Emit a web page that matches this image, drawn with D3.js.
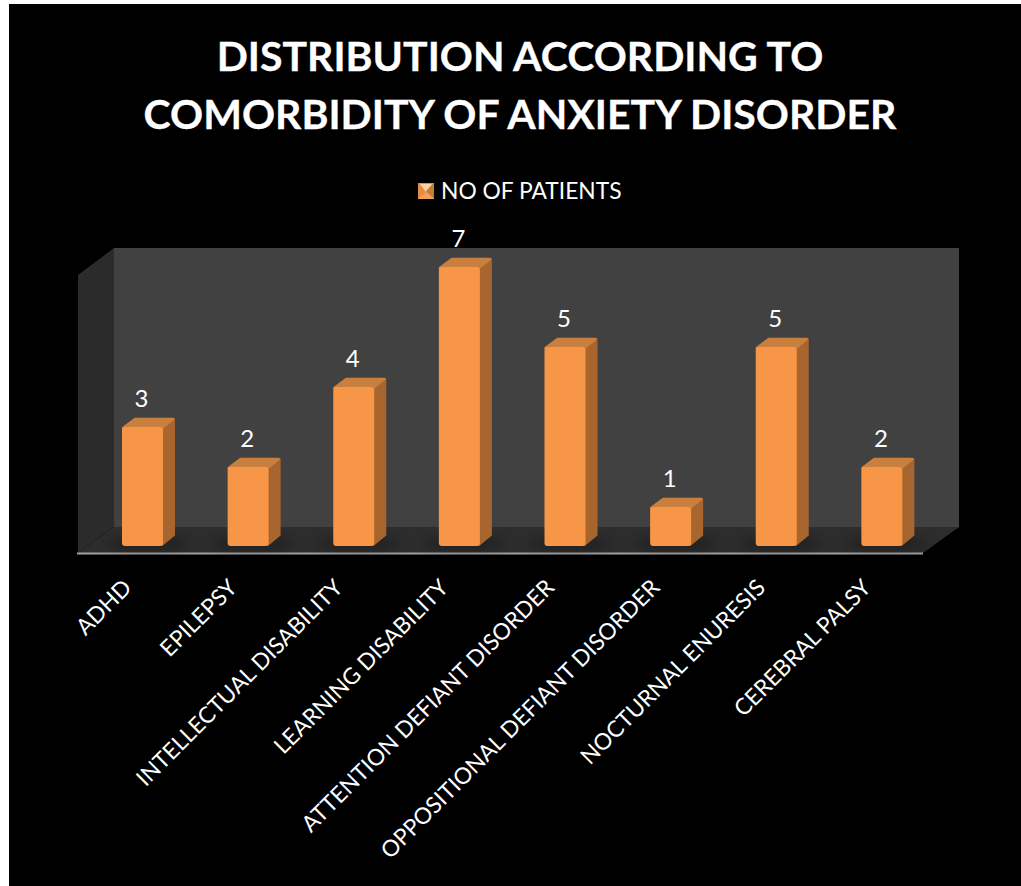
<!DOCTYPE html>
<html>
<head>
<meta charset="utf-8">
<script src="https://cdn.jsdelivr.net/npm/d3@7/dist/d3.min.js"></script>
<style>
html,body{margin:0;padding:0;background:#fff;overflow:hidden}
svg{display:block}
text{font-family:Lato,"Open Sans",sans-serif;fill:#fff}
</style>
</head>
<body>
<svg id="chart" width="1021" height="886"></svg>
<script>
const titleLines = ["DISTRIBUTION ACCORDING TO", "COMORBIDITY OF ANXIETY DISORDER"];
const seriesName = "NO OF PATIENTS";
const categories = ["ADHD", "EPILEPSY", "INTELLECTUAL DISABILITY", "LEARNING DISABILITY",
  "ATTENTION DEFIANT DISORDER", "OPPOSITIONAL DEFIANT DISORDER", "NOCTURNAL ENURESIS", "CEREBRAL PALSY"];
const patients = [3, 2, 4, 7, 5, 1, 5, 2];

const svg = d3.select("#chart");
const defs = svg.append("defs");

// Soft contact shadow under each column
defs.append("filter").attr("id", "floorShadow")
  .attr("x", "-40%").attr("y", "-150%").attr("width", "180%").attr("height", "400%")
  .append("feGaussianBlur").attr("stdDeviation", 6);

// Slight softening of the bevelled column edges
defs.append("filter").attr("id", "soft")
  .attr("x", "-10%").attr("y", "-10%").attr("width", "120%").attr("height", "120%")
  .append("feGaussianBlur").attr("stdDeviation", 0.5);

svg.append("rect").attr("x", 9).attr("y", 4).attr("width", 1012).attr("height", 882).attr("fill", "#000");

// 3D box geometry
const front = {left: 78, right: 923, floor: 553};
const depth = {x: 36, y: 26};
const x = d3.scaleBand().domain(categories).range([front.left, front.right]);
const y = d3.scaleLinear().domain([0, 7]).range([547, 267]);
const wallTop = 248;
const backFloor = front.floor - depth.y;
const poly = pts => d3.line()(pts);

svg.append("path").attr("fill", "#414141")
  .attr("d", poly([[front.left + depth.x, wallTop], [front.right + depth.x, wallTop],
                   [front.right + depth.x, backFloor], [front.left + depth.x, backFloor]]) + "Z");
svg.append("path").attr("fill", "#2b2b2b")
  .attr("d", poly([[front.left, wallTop + 27], [front.left + depth.x, wallTop],
                   [front.left + depth.x, backFloor], [front.left, front.floor]]) + "Z");
svg.append("path").attr("fill", "#2d2d2d")
  .attr("d", poly([[front.left, front.floor], [front.left + depth.x, backFloor],
                   [front.right + depth.x, backFloor], [front.right, front.floor]]) + "Z");
svg.append("line")
  .attr("x1", front.left - 1).attr("x2", front.right)
  .attr("y1", front.floor + 0.5).attr("y2", front.floor + 0.5)
  .attr("stroke", "#a0a0a0").attr("stroke-width", 2);

// Columns
const barW = 41, barDx = 12, barDy = 9, barBase = 546;
const barLeft = d => x(d) + 44;
const rows = categories.map((c, i) => ({c, v: patients[i]}));

const bars = svg.append("g").selectAll("g").data(rows).join("g");

bars.append("ellipse")
  .attr("cx", d => barLeft(d.c) + barW / 2 + 5)
  .attr("cy", 544).attr("rx", 42).attr("ry", 3)
  .attr("fill", "#000").attr("opacity", 0.6)
  .attr("filter", "url(#floorShadow)");

const solids = bars.append("g").attr("filter", "url(#soft)");

solids.append("path").attr("fill", "#a8662e").attr("stroke", "#a8662e")
  .attr("stroke-linejoin", "round").attr("stroke-width", 2)
  .attr("d", d => {
    const l = barLeft(d.c) + barW, t = y(d.v), b = barBase - 1;
    return poly([[l - 1, t], [l + barDx - 1, t - barDy + 1], [l + barDx - 1, b - barDy - 1], [l - 1, b]]) + "Z";
  });

solids.append("path").attr("fill", "#c97f3c").attr("stroke", "#c97f3c")
  .attr("stroke-linejoin", "round").attr("stroke-width", 2.5)
  .attr("d", d => {
    const l = barLeft(d.c), t = y(d.v);
    return poly([[l + 1, t + 1], [l + barDx + 1, t - barDy + 1], [l + barW + barDx - 2, t - barDy + 1], [l + barW - 1, t + 1]]) + "Z";
  });

solids.append("rect")
  .attr("x", d => barLeft(d.c))
  .attr("y", d => y(d.v))
  .attr("width", barW)
  .attr("height", d => barBase - y(d.v))
  .attr("rx", 3)
  .attr("fill", "#f79646");

// Value labels
svg.append("g").selectAll("text").data(rows).join("text")
  .attr("x", d => barLeft(d.c) + 19.5)
  .attr("y", d => y(d.v) - 20)
  .attr("text-anchor", "middle")
  .attr("font-size", 24)
  .text(d => d.v);

// Category axis labels
svg.append("g").selectAll("text").data(categories).join("text")
  .attr("text-anchor", "end")
  .attr("font-size", 22.7)
  .attr("transform", d => `translate(${barLeft(d) + 11},${589}) rotate(-45)`)
  .text(d => d);

// Title
svg.append("g").selectAll("text").data(titleLines).join("text")
  .attr("x", 520)
  .attr("y", (d, i) => 71 + i * 58)
  .attr("text-anchor", "middle")
  .attr("font-size", 41)
  .attr("font-weight", 700)
  .attr("stroke", "#fff").attr("stroke-width", 0.3)
  .text(d => d);

// Legend
const lg = svg.append("g").attr("transform", "translate(418,183)");
const s = 16, c = s / 2;
lg.append("rect").attr("width", s).attr("height", s).attr("fill", "#e58d44");
lg.append("path").attr("fill", "#fcd6a0").attr("d", poly([[2, 1], [s - 2, 1], [c, c + 1]]) + "Z");
lg.append("path").attr("fill", "#c67c39").attr("d", poly([[s, 0], [s, s], [c, c]]) + "Z");
lg.append("path").attr("fill", "#f3a05a").attr("d", poly([[0, s], [s, s], [c, c + 1]]) + "Z");
lg.append("text").attr("x", 23).attr("y", 16).attr("font-size", 22.8).text(seriesName);
</script>
</body>
</html>
